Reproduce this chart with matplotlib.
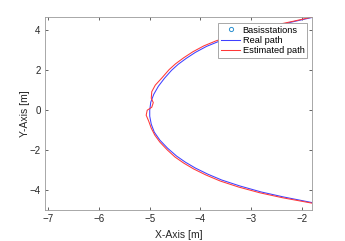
import matplotlib
matplotlib.use("Agg")
import matplotlib.pyplot as plt

plt.rcParams["font.family"] = ["Liberation Sans", "DejaVu Sans"]

# base stations lie outside the shown window (legend entry only)
basis_x = []
basis_y = []

real_y = [4.65, 4.45, 4.20, 3.95, 3.70, 3.45, 3.20, 2.90, 2.60, 2.30,
          2.00, 1.60, 1.20, 0.80, 0.40, 0.00, -0.30, -0.70, -1.10, -1.50,
          -1.90, -2.30, -2.60, -2.90, -3.20, -3.50, -3.80, -4.10, -4.35, -4.63]
real_x = [-1.80, -2.15, -2.58, -3.00, -3.34, -3.64, -3.88, -4.10, -4.28, -4.44,
          -4.57, -4.71, -4.83, -4.92, -4.98, -5.00, -5.00, -4.97, -4.91, -4.80,
          -4.65, -4.47, -4.30, -4.10, -3.86, -3.58, -3.22, -2.80, -2.36, -1.80]

est_y = [4.67, 4.46, 4.22, 3.98, 3.73, 3.48, 3.23, 2.93, 2.63, 2.33,
         2.03, 1.62, 1.26, 0.93, 0.60, 0.38, 0.15, 0.00, -0.25, -0.55,
         -0.90, -1.25, -1.60, -2.00, -2.35, -2.65, -2.95, -3.25, -3.55, -3.85,
         -4.14, -4.39, -4.66]
est_x = [-1.80, -2.17, -2.62, -3.04, -3.39, -3.69, -3.93, -4.15, -4.33, -4.49,
         -4.62, -4.76, -4.89, -4.96, -4.97, -4.93, -4.96, -5.05, -5.07, -5.02,
         -4.97, -4.90, -4.80, -4.65, -4.50, -4.33, -4.13, -3.89, -3.61, -3.25,
         -2.83, -2.38, -1.80]

fig = plt.figure(figsize=(3.45, 2.41), dpi=100)
ax = fig.add_axes([0.130, 0.129, 0.774, 0.800])

ax.plot(basis_x, basis_y, "o", color="#2a8fd0", ms=3, mfc="none", mew=0.7,
        label="Basisstations")
ax.plot(real_x, real_y, color="#4040ff", lw=0.75, label="Real path")
ax.plot(est_x, est_y, color="#ff3838", lw=0.75, label="Estimated path")

ax.set_xlim(-7.07, -1.80)
ax.set_ylim(-5.0, 4.67)
ax.set_xticks([-7, -6, -5, -4, -3, -2])
ax.set_yticks([-4, -2, 0, 2, 4])
ax.tick_params(direction="in", length=2.5, width=0.5, labelsize=7,
               colors="#262626", top=True, right=True, pad=3)
for s in ax.spines.values():
    s.set_color("#9a9a9a")
    s.set_linewidth(0.6)
ax.set_xlabel("X-Axis [m]", fontsize=7.5, color="#262626", labelpad=4)
ax.set_ylabel("Y-Axis [m]", fontsize=7.5, color="#262626", labelpad=0)

leg = ax.legend(loc="upper right", bbox_to_anchor=(0.983, 0.97), fontsize=6.7,
                frameon=True, fancybox=False, handlelength=2.0,
                handletextpad=0.3, borderpad=0.3, labelspacing=0.15,
                borderaxespad=0)
leg.get_frame().set_edgecolor("#9a9a9a")
leg.get_frame().set_linewidth(0.6)
leg.get_frame().set_alpha(1)

fig.savefig("out.png", dpi=100)
